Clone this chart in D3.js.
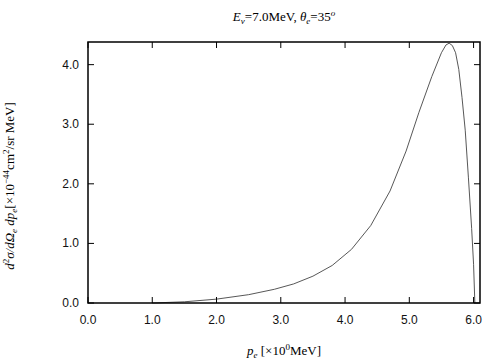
<!DOCTYPE html>
<meta charset="utf-8">
<html>
<head>
<style>
  body { margin: 0; background: #fff; }
  text.tick { font-family: "Liberation Sans", Arial, sans-serif; font-size: 12px; fill: #111; }
  text.lbl { font-family: "Liberation Serif", "Times New Roman", serif; font-size: 13px; fill: #000; }
</style>
<script src="https://cdn.jsdelivr.net/npm/d3@7"></script>
</head>
<body>
<div id="chart"></div>
<script>
// data
var pe    = [1.0, 1.5, 2.0, 2.5, 2.9, 3.2, 3.5, 3.8, 4.1, 4.4, 4.7, 4.95, 5.15, 5.35, 5.5, 5.57, 5.62, 5.67, 5.72, 5.77, 5.82, 5.87, 5.92, 5.97, 6.0, 6.02];
var xsec  = [0.0, 0.02, 0.065, 0.14, 0.23, 0.32, 0.45, 0.63, 0.9, 1.3, 1.88, 2.55, 3.2, 3.8, 4.2, 4.33, 4.36, 4.32, 4.2, 3.92, 3.45, 2.9, 2.1, 1.25, 0.65, 0.0];
var xTicks = [0, 1, 2, 3, 4, 5, 6];
var yTicks = [0, 1, 2, 3, 4];

var W = 504, H = 360;
var m = { left: 88, right: 24, top: 42, bottom: 57 };

var svg = d3.select("#chart").append("svg")
    .attr("width", W).attr("height", H);

var x = d3.scaleLinear().domain([0, 6.1]).range([m.left, W - m.right]);
var y = d3.scaleLinear().domain([0, 4.38]).range([H - m.bottom, m.top]);

var pts = pe.map(function(p, i) { return [p, xsec[i]]; });

// curve
svg.append("path")
    .datum(pts)
    .attr("fill", "none")
    .attr("stroke", "#444")
    .attr("stroke-width", 0.9)
    .attr("d", d3.line().x(function(d) { return x(d[0]); }).y(function(d) { return y(d[1]); }));

// inward ticks on all four sides
var tl = 6;
var g = svg.append("g").attr("stroke", "#000").attr("stroke-width", 1);
xTicks.forEach(function(t) {
  g.append("line").attr("x1", x(t)).attr("x2", x(t)).attr("y1", y.range()[0]).attr("y2", y.range()[0] - tl);
  g.append("line").attr("x1", x(t)).attr("x2", x(t)).attr("y1", y.range()[1]).attr("y2", y.range()[1] + tl);
});
yTicks.forEach(function(t) {
  g.append("line").attr("y1", y(t)).attr("y2", y(t)).attr("x1", x.range()[0]).attr("x2", x.range()[0] + tl);
  g.append("line").attr("y1", y(t)).attr("y2", y(t)).attr("x1", x.range()[1]).attr("x2", x.range()[1] - tl);
});

// frame
svg.append("rect")
    .attr("x", x.range()[0]).attr("y", y.range()[1])
    .attr("width", x.range()[1] - x.range()[0])
    .attr("height", y.range()[0] - y.range()[1])
    .attr("fill", "none").attr("stroke", "#000").attr("stroke-width", 1.5);

// tick labels
svg.selectAll(".xl").data(xTicks).enter().append("text")
    .attr("class", "tick")
    .attr("x", function(d) { return x(d); })
    .attr("y", y.range()[0] + 21)
    .attr("text-anchor", "middle")
    .text(function(d) { return d.toFixed(1); });

svg.selectAll(".yl").data(yTicks).enter().append("text")
    .attr("class", "tick")
    .attr("x", x.range()[0] - 9)
    .attr("y", function(d) { return y(d) + 4; })
    .attr("text-anchor", "end")
    .text(function(d) { return d.toFixed(1); });

// title
var title = svg.append("text").attr("class", "lbl")
    .attr("x", (x.range()[0] + x.range()[1]) / 2).attr("y", 21)
    .attr("text-anchor", "middle");
title.append("tspan").attr("font-style", "italic").text("E");
title.append("tspan").attr("font-size", "9px").attr("dy", 3).attr("font-style", "italic").text("ν");
title.append("tspan").attr("dy", -3).text("=7.0MeV,  ");
title.append("tspan").attr("font-style", "italic").text("θ");
title.append("tspan").attr("font-size", "9px").attr("dy", 3).attr("font-style", "italic").text("e");
title.append("tspan").attr("dy", -3).text("=35");
title.append("tspan").attr("font-size", "9px").attr("dy", -5).attr("font-style", "italic").text("o");

// x label
var xl = svg.append("text").attr("class", "lbl")
    .attr("x", (x.range()[0] + x.range()[1]) / 2).attr("y", 355)
    .attr("text-anchor", "middle");
xl.append("tspan").attr("font-style", "italic").text("p");
xl.append("tspan").attr("font-size", "9px").attr("dy", 3).attr("font-style", "italic").text("e");
xl.append("tspan").attr("dy", -3).text(" [×10");
xl.append("tspan").attr("font-size", "9px").attr("dy", -5).text("0");
xl.append("tspan").attr("dy", 5).text("MeV]");

// y label
var yl = svg.append("text").attr("class", "lbl")
    .attr("transform", "translate(14,186) rotate(-90)")
    .attr("text-anchor", "middle");
yl.append("tspan").attr("font-style", "italic").text("d");
yl.append("tspan").attr("font-size", "9px").attr("dy", -5).text("2");
yl.append("tspan").attr("dy", 5).attr("font-style", "italic").text("σ/dΩ");
yl.append("tspan").attr("font-size", "9px").attr("dy", 3).attr("font-style", "italic").text("e");
yl.append("tspan").attr("dy", -3).attr("font-style", "italic").text(" dp");
yl.append("tspan").attr("font-size", "9px").attr("dy", 3).attr("font-style", "italic").text("e");
yl.append("tspan").attr("dy", -3).text("[×10");
yl.append("tspan").attr("font-size", "9px").attr("dy", -5).text("−44");
yl.append("tspan").attr("dy", 5).text("cm");
yl.append("tspan").attr("font-size", "9px").attr("dy", -5).text("2");
yl.append("tspan").attr("dy", 5).text("/sr MeV]");
</script>
</body>
</html>
